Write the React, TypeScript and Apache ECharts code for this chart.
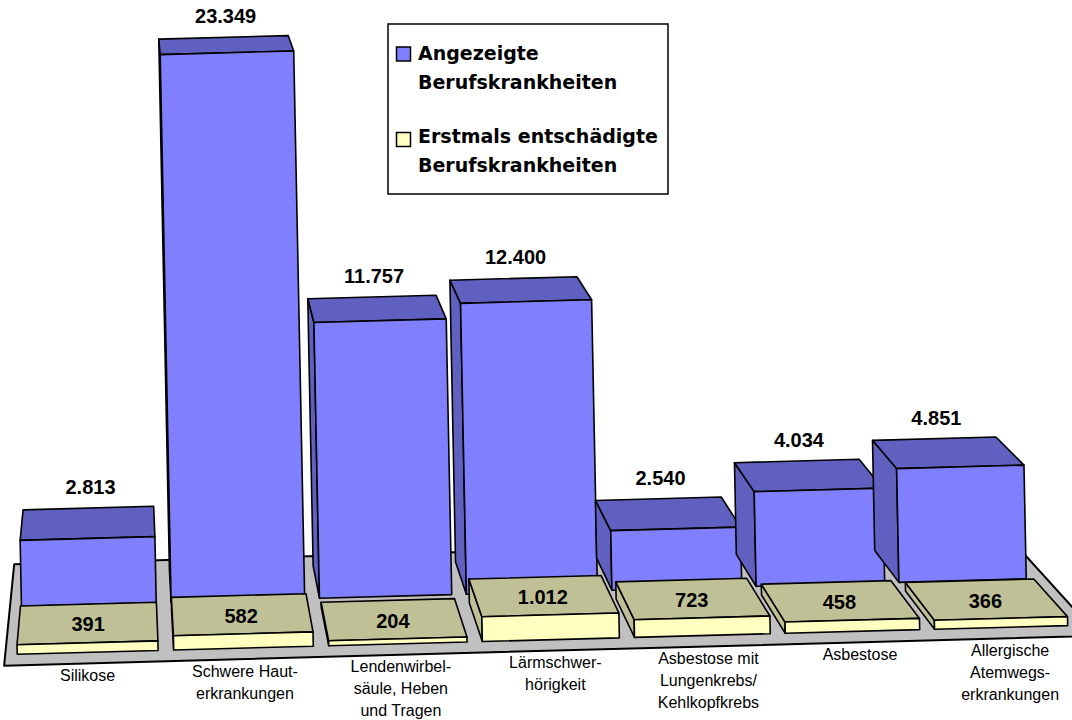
import React, { useEffect, useRef } from "react";
import * as echarts from "echarts";

const categories = [
  "Silikose",
  "Schwere Haut-\nerkrankungen",
  "Lendenwirbel-\nsäule, Heben\nund Tragen",
  "Lärmschwer-\nhörigkeit",
  "Asbestose mit\nLungenkrebs/\nKehlkopfkrebs",
  "Asbestose",
  "Allergische\nAtemwegs-\nerkrankungen",
];
const angezeigt = [2813, 23349, 11757, 12400, 2540, 4034, 4851];
const entschaedigt = [391, 582, 204, 1012, 723, 458, 366];
const seriesNames = ["Angezeigte Berufskrankheiten", "Erstmals entschädigte Berufskrankheiten"];
const legendLines = [
  ["Angezeigte", "Berufskrankheiten"],
  ["Erstmals entschädigte", "Berufskrankheiten"],
];

const BLUE = "#8080ff";
const BLUE_DARK = "#6060c0";
const YELLOW = "#ffffc0";
const YELLOW_DARK = "#c0c096";
const FLOOR = "#c0c0c0";

// projection parameters: slight yaw warp, perspective toward a vanishing point, slight tilt
const WX = 545;
const WQ = 3.1e-5;
const VPX = 137;
const VPY = -459;
const CX = 540;
const CY = 640;
const SHX = 0.02;
const SHY = 0.0273;
const S = { yFront: 1, yBack: 0.9646, bFront: 0.9565, bBack: 0.927, fFront: 1.01, fBack: 0.918 };

const GRID_LEFT = 17.95;
const BAND = 152.3;

const fmt = (v: number) => String(v).replace(/\B(?=(\d{3})+(?!\d))/g, ".");

function P(x: number, y: number, s: number): number[] {
  const wx = x - WQ * (x - WX) * (x - WX);
  const px = VPX + (wx - VPX) * s;
  const py = VPY + (y - VPY) * s;
  return [px + SHX * (py - CY), py - SHY * (px - CX)];
}

const edge = { stroke: "#000", lineWidth: 1.6, lineJoin: "round" };

function makeBars(row: number) {
  return (params: any, api: any) => {
    const i = api.value(0);
    const v = api.value(1);
    const base = api.coord([i, 0]);
    const top = api.coord([i, v]);
    const bw = api.size([1, 0])[0] * 0.9;
    const xl = base[0] - bw / 2;
    const xr = base[0] + bw / 2;
    const y0 = base[1];
    const y1 = top[1];
    const sF = row === 0 ? S.bFront : S.yFront;
    const sB = row === 0 ? S.bBack : S.yBack;
    const front = row === 0 ? BLUE : YELLOW;
    const dark = row === 0 ? BLUE_DARK : YELLOW_DARK;
    const children: any[] = [];
    const wl = P(xl, y0, 1)[0];
    const wr = P(xr, y0, 1)[0];
    if (wl > VPX) {
      children.push({
        type: "polygon",
        shape: { points: [P(xl, y1, sF), P(xl, y1, sB), P(xl, y0, sB), P(xl, y0, sF)] },
        style: { fill: dark, ...edge },
      });
    }
    if (wr < VPX) {
      children.push({
        type: "polygon",
        shape: { points: [P(xr, y1, sF), P(xr, y1, sB), P(xr, y0, sB), P(xr, y0, sF)] },
        style: { fill: dark, ...edge },
      });
    }
    children.push({
      type: "polygon",
      shape: { points: [P(xl, y1, sF), P(xr, y1, sF), P(xr, y1, sB), P(xl, y1, sB)] },
      style: { fill: dark, ...edge },
    });
    children.push({
      type: "polygon",
      shape: { points: [P(xl, y1, sF), P(xr, y1, sF), P(xr, y0, sF), P(xl, y0, sF)] },
      style: { fill: front, ...edge },
    });
    const labelStyle = {
      fill: "#000",
      font: "bold 20px 'Liberation Sans', Arial, sans-serif",
      align: "center",
      verticalAlign: "middle",
      textAlign: "center",
      textVerticalAlign: "middle",
    };
    if (row === 0) {
      const lp = P(base[0], y1, sB);
      children.push({ type: "text", x: lp[0] + 2, y: lp[1] - 21, style: { text: fmt(v), ...labelStyle } });
    } else {
      const lp = P(base[0], y1, (sF + sB) / 2);
      children.push({ type: "text", x: lp[0], y: lp[1] + 1, style: { text: fmt(v), ...labelStyle } });
      const cp = P(base[0], y0, S.fFront);
      children.push({
        type: "text",
        x: cp[0],
        y: cp[1] + 1,
        style: {
          text: categories[i],
          fill: "#000",
          font: "16px 'Liberation Sans', Arial, sans-serif",
          lineHeight: 22,
          align: "center",
          verticalAlign: "top",
          textAlign: "center",
          textVerticalAlign: "top",
        },
      });
    }
    return { type: "group", children };
  };
}

function renderFloor(params: any, api: any) {
  const bw = api.size([1, 0])[0];
  const a = api.coord([0, 0]);
  const b = api.coord([categories.length - 1, 0]);
  const xl = a[0] - bw / 2 - 4;
  const xr = b[0] + bw / 2 + 14;
  const y0 = a[1];
  return {
    type: "polygon",
    shape: { points: [P(xl, y0, S.fFront), P(xr, y0, S.fFront), P(xr, y0, S.fBack), P(xl, y0, S.fBack)] },
    style: { fill: FLOOR, stroke: "#000", lineWidth: 2, lineJoin: "round" },
  };
}

export default function App() {
  const ref = useRef<HTMLDivElement>(null);
  useEffect(() => {
    if (!ref.current) return;
    const chart = echarts.init(ref.current, undefined, { renderer: "svg" });
    const legendFont = "bold 19px 'DejaVu Sans', sans-serif";
    const legendText = (t: string, y: number) => ({
      type: "text",
      x: 418,
      y,
      z: 11,
      style: { text: t, font: legendFont, fill: "#000", verticalAlign: "middle", textVerticalAlign: "middle" },
    });
    chart.setOption({
      animation: false,
      backgroundColor: "#fff",
      grid: { left: GRID_LEFT, right: 0, top: 27, bottom: 80 },
      xAxis: { type: "value", min: -0.5, max: -0.5 + (1072 - GRID_LEFT) / BAND, show: false },
      yAxis: { type: "value", min: 0, max: 25000, show: false },
      series: [
        {
          type: "custom",
          name: "floor",
          z: 1,
          clip: false,
          silent: true,
          data: [[0, 0]],
          renderItem: renderFloor,
        },
        {
          type: "custom",
          name: seriesNames[0],
          z: 2,
          clip: false,
          data: angezeigt.map((v, i) => [i, v]),
          renderItem: makeBars(0),
        },
        {
          type: "custom",
          name: seriesNames[1],
          z: 3,
          clip: false,
          data: entschaedigt.map((v, i) => [i, v]),
          renderItem: makeBars(1),
        },
      ],
      graphic: [
        { type: "rect", z: 10, shape: { x: 388, y: 24, width: 280, height: 170 }, style: { fill: "#fff", stroke: "#000", lineWidth: 1.5 } },
        { type: "rect", z: 11, shape: { x: 396.5, y: 47, width: 14, height: 14 }, style: { fill: BLUE, stroke: "#000", lineWidth: 1.5 } },
        { type: "rect", z: 11, shape: { x: 396.5, y: 132.5, width: 14, height: 14 }, style: { fill: YELLOW, stroke: "#000", lineWidth: 1.5 } },
        legendText(legendLines[0][0], 53),
        legendText(legendLines[0][1], 82),
        legendText(legendLines[1][0], 136),
        legendText(legendLines[1][1], 165),
      ],
    });
    return () => chart.dispose();
  }, []);
  return <div ref={ref} style={{ position: "absolute", left: 0, top: 0, width: 1072, height: 720 }} />;
}
